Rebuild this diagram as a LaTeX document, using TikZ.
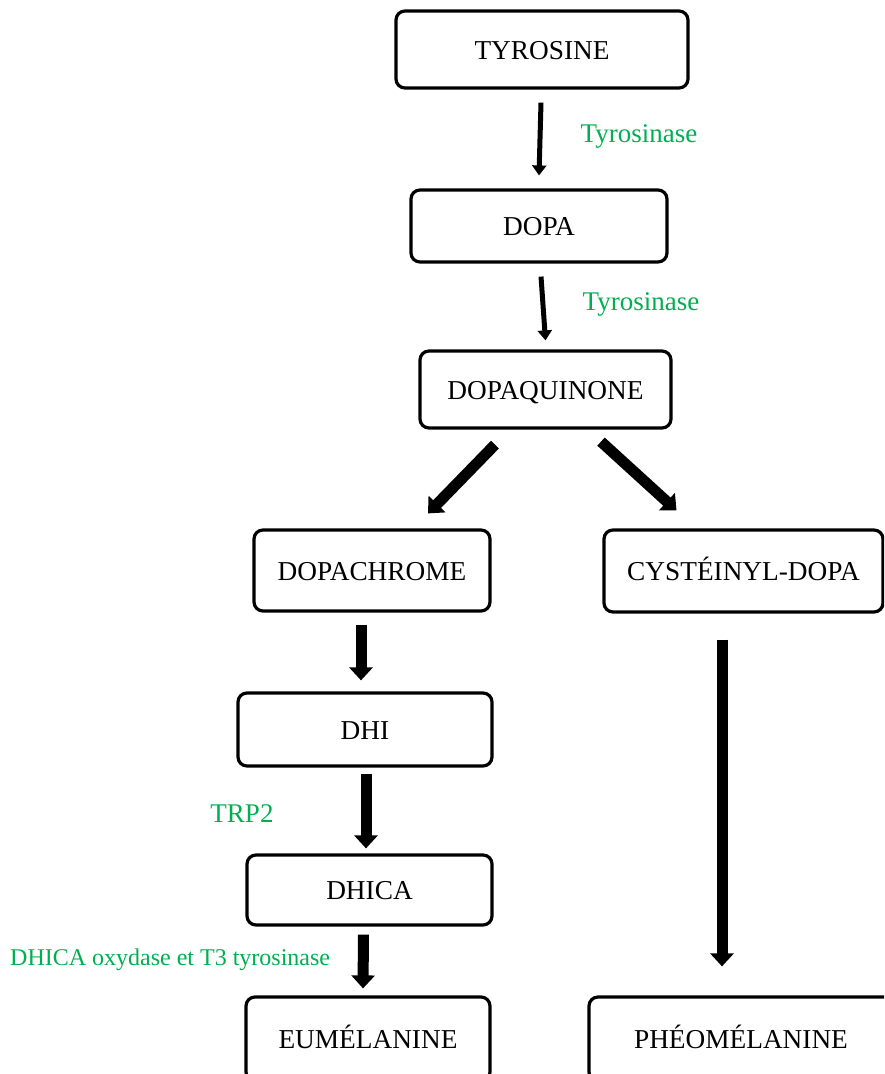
\documentclass[tikz,border=0pt]{standalone}
\usepackage{fontspec}
\setmainfont{Liberation Serif}
\usetikzlibrary{arrows.meta}
\definecolor{labelgreen}{RGB}{0,176,80}
\tikzset{
  box/.style={draw=black, line width=3.2pt, rounded corners=9pt, fill=white,
    inner sep=0pt, text height=19pt, text depth=0pt,
    font=\fontsize{27.3}{30}\selectfont},
  enz/.style={text=labelgreen, inner sep=0pt, anchor=base,
    font=\fontsize{27}{30}\selectfont},
  thinarrow/.style={line width=5pt, -{Triangle[length=10pt,width=14pt]}},
  thickarrow/.style={line width=11pt, -{Triangle[length=13pt,width=23pt]}},
}
\begin{document}
\begin{tikzpicture}[x=1pt, y=-1pt]
\useasboundingbox (0,0) rectangle (884,1074);
\clip (0,0) rectangle (884,1074);

\node[box, minimum width=292pt, minimum height=77pt] (tyr) at (542,49.5) {TYROSINE};
\node[box, minimum width=256pt, minimum height=72pt] (dopa) at (539,226) {DOPA};
\node[box, minimum width=251pt, minimum height=77pt] (dq) at (545.5,389.5) {DOPAQUINONE};
\node[box, minimum width=236pt, minimum height=81pt] (dch) at (372,570.5) {DOPACHROME};
\node[box, minimum width=279pt, minimum height=82pt] (cys) at (743.5,571) {CYSTÉINYL-DOPA};
\node[box, minimum width=254pt, minimum height=73pt] (dhi) at (365,729.5) {DHI};
\node[box, minimum width=245pt, minimum height=70pt] (dhica) at (369.5,890) {DHICA};
\node[box, minimum width=244pt, minimum height=84pt] (eum) at (368,1039) {EUMÉLANINE};
\node[box, minimum width=304pt, minimum height=84pt] (pheo) at (741,1039) {PHÉOMÉLANINE};

\node[enz] (e1) at (639,142) {Tyrosinase};
\node[enz] (e2) at (641,310) {Tyrosinase};
\node[enz] (e3) at (242,822) {TRP2};
\node[enz, anchor=base west, font=\fontsize{24}{28}\selectfont] (e4) at (10,965) {DHICA oxydase et T3 tyrosinase};

\draw[thinarrow] ([shift={(-1,13)}]tyr.south) -- ([shift={(0,-13)}]dopa.north);
\draw[thinarrow] ([shift={(2,13)}]dopa.south) -- ([shift={(0,-9)}]dq.north);
\draw[thickarrow] ([shift={(-50.5,15)}]dq.south) -- ([shift={(56,-15)}]dch.north);
\draw[thickarrow] ([shift={(55.5,12)}]dq.south) -- ([shift={(-67,-18)}]cys.north);
\draw[thickarrow] ([shift={(-11,12)}]dch.south) -- ([shift={(-4,-11)}]dhi.north);
\draw[thickarrow] ([shift={(1,6)}]dhi.south) -- ([shift={(-3.5,-5)}]dhica.north);
\draw[thickarrow] ([shift={(-6,8)}]dhica.south) -- ([shift={(-5,-7)}]eum.north);
\draw[thickarrow] ([shift={(-21.5,26)}]cys.south) -- ([shift={(-19,-29)}]pheo.north);
\end{tikzpicture}
\end{document}
